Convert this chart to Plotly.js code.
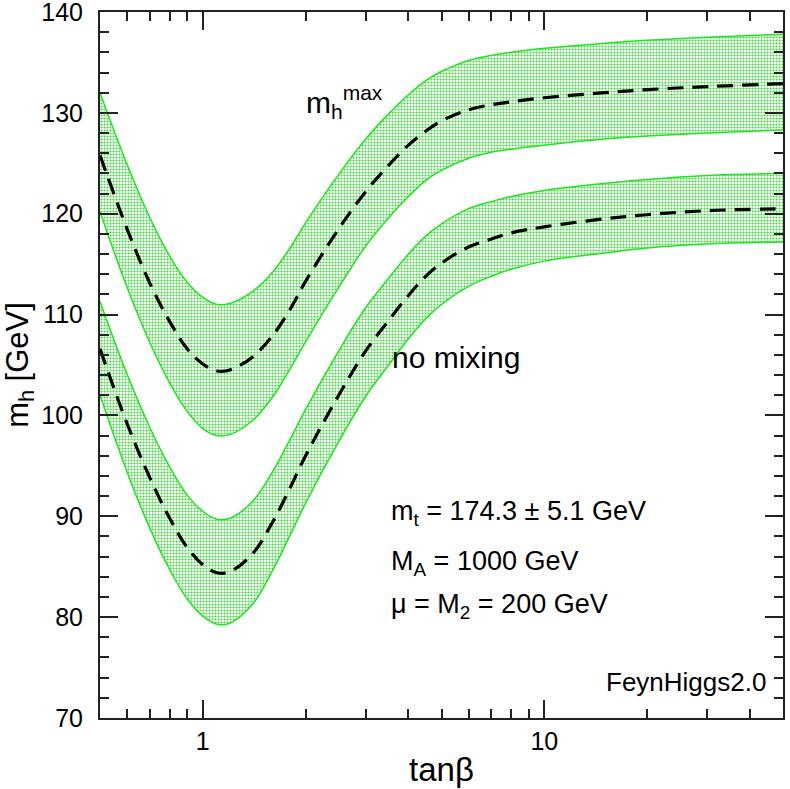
<!DOCTYPE html>
<html>
<head>
<meta charset="utf-8">
<script src="https://cdn.plot.ly/plotly-3.0.1.min.js"></script>
<style>
  html, body { margin: 0; padding: 0; background: #fff; }
  #chart { width: 790px; height: 789px; }
</style>
</head>
<body>
<div id="chart"></div>
<script>
// tan(beta) grid
const tanb = [0.5, 0.6, 0.7, 0.8, 0.9, 1.0, 1.1, 1.2, 1.4, 1.6, 1.8, 2.0, 2.5, 3, 3.5, 4, 4.5, 5, 6, 7, 8, 10, 15, 20, 30, 50];

// m_h^max scenario: upper edge, central value, lower edge
const maxUpper = [132.0, 124.9, 119.6, 115.8, 113.2, 111.7, 111.0, 111.1, 112.3, 114.2, 116.6, 119.1, 123.9, 127.4, 129.9, 131.8, 133.2, 134.1, 135.2, 135.7, 136.0, 136.4, 136.9, 137.2, 137.5, 137.8];
const maxCentral = [125.8, 118.5, 113.1, 109.3, 106.6, 105.1, 104.4, 104.5, 105.8, 107.9, 110.5, 113.3, 118.5, 122.2, 124.8, 126.8, 128.2, 129.2, 130.3, 130.8, 131.1, 131.5, 132.0, 132.3, 132.6, 132.9];
const maxLower = [120.2, 112.7, 107.2, 103.2, 100.4, 98.7, 98.0, 98.1, 99.5, 101.8, 104.6, 107.3, 112.7, 116.8, 119.6, 121.7, 123.3, 124.3, 125.5, 126.1, 126.4, 126.8, 127.4, 127.7, 128.0, 128.3];

// no-mixing scenario
const nomixUpper = [111.3, 104.1, 98.8, 94.9, 92.1, 90.5, 89.7, 89.8, 91.5, 94.4, 97.6, 100.6, 106.4, 110.7, 113.6, 116.0, 117.8, 119.0, 120.5, 121.2, 121.7, 122.3, 123.0, 123.4, 123.8, 124.0];
const nomixCentral = [106.6, 99.2, 93.8, 89.8, 86.9, 85.2, 84.4, 84.5, 86.3, 89.4, 92.8, 96.0, 102.0, 106.4, 109.4, 111.9, 113.8, 115.1, 116.7, 117.5, 118.1, 118.7, 119.5, 119.9, 120.3, 120.5];
const nomixLower = [102.0, 94.4, 88.8, 84.7, 81.8, 80.1, 79.3, 79.4, 81.3, 84.6, 88.1, 91.3, 97.4, 101.9, 105.0, 107.6, 109.6, 111.0, 112.8, 113.8, 114.5, 115.3, 116.1, 116.6, 117.0, 117.2];

// axis ticks
const xMajor = [1, 10];
const xMajorText = ['1', '10'];
const xMinor = [0.6, 0.7, 0.8, 0.9, 2, 3, 4, 5, 6, 7, 8, 9, 20, 30, 40, 50];

const green = '#1ee61e';
const bandPattern = { shape: '.', fgcolor: '#3fd63f', bgcolor: '#ffffff', size: 3, solidity: 0.4 };

function edge(y) {
    return {
        x: tanb, y: y, type: 'scatter', mode: 'lines',
        line: { color: green, width: 1.5, shape: 'spline' },
        hoverinfo: 'skip', showlegend: false
    };
}

function band(y) {
    const t = edge(y);
    t.fill = 'tonexty';
    t.fillpattern = bandPattern;
    return t;
}

function central(y) {
    return {
        x: tanb, y: y, type: 'scatter', mode: 'lines',
        line: { color: '#000', width: 3.2, dash: '16px,9px', shape: 'spline' },
        showlegend: false
    };
}

const traces = [
    edge(maxLower), band(maxUpper), central(maxCentral),
    edge(nomixLower), band(nomixUpper), central(nomixCentral)
];

const font = 'Liberation Sans, Arial, Helvetica, sans-serif';

const axisCommon = {
    showline: true, linecolor: '#222', linewidth: 2,
    mirror: 'allticks', ticks: 'inside', ticklen: 18, tickwidth: 2, tickcolor: '#222',
    showgrid: false, zeroline: false,
    ticklabeloverflow: 'allow',
    tickfont: { family: font, size: 25, color: '#000' }
};

const layout = {
    width: 790, height: 789,
    margin: { l: 100, r: 7, t: 12, b: 71 },
    paper_bgcolor: '#fff', plot_bgcolor: '#fff',
    font: { family: font, color: '#000' },
    xaxis: Object.assign({}, axisCommon, {
        type: 'log',
        range: [Math.log10(0.5), Math.log10(50)],
        tickmode: 'array', tickvals: xMajor, ticktext: xMajorText,
        minor: { tickmode: 'array', tickvals: xMinor, ticks: 'inside', ticklen: 9, tickwidth: 2, tickcolor: '#222' },
        title: { text: 'tanβ', font: { family: font, size: 33 }, standoff: 4 }
    }),
    yaxis: Object.assign({}, axisCommon, {
        range: [70, 140.0001],
        tickmode: 'linear', tick0: 70, dtick: 10,
        ticklabelstandoff: 10,
        minor: { dtick: 2, ticks: 'inside', ticklen: 9, tickwidth: 2, tickcolor: '#222' },
        title: { text: 'm<sub>h</sub> [GeV]', font: { family: font, size: 31 }, standoff: 4 }
    }),
    annotations: [
        { text: 'm<sub>h</sub><sup>max</sup>', xref: 'paper', yref: 'paper', x: 0.298, y: 0.872, xanchor: 'left', yanchor: 'middle', showarrow: false, font: { size: 30 } },
        { text: 'no mixing', xref: 'paper', yref: 'paper', x: 0.424, y: 0.511, xanchor: 'left', yanchor: 'middle', showarrow: false, font: { size: 30 } },
        { text: 'm<sub>t</sub> = 174.3 ± 5.1 GeV', xref: 'paper', yref: 'paper', x: 0.423, y: 0.290, xanchor: 'left', yanchor: 'middle', showarrow: false, font: { size: 27 } },
        { text: 'M<sub>A</sub> = 1000 GeV', xref: 'paper', yref: 'paper', x: 0.423, y: 0.2195, xanchor: 'left', yanchor: 'middle', showarrow: false, font: { size: 27 } },
        { text: 'μ = M<sub>2</sub> = 200 GeV', xref: 'paper', yref: 'paper', x: 0.423, y: 0.1586, xanchor: 'left', yanchor: 'middle', showarrow: false, font: { size: 27 } },
        { text: 'FeynHiggs2.0', xref: 'paper', yref: 'paper', x: 0.978, y: 0.051, xanchor: 'right', yanchor: 'middle', showarrow: false, font: { size: 26 } }
    ]
};

Plotly.newPlot('chart', traces, layout, { staticPlot: true, displayModeBar: false });
</script>
</body>
</html>
